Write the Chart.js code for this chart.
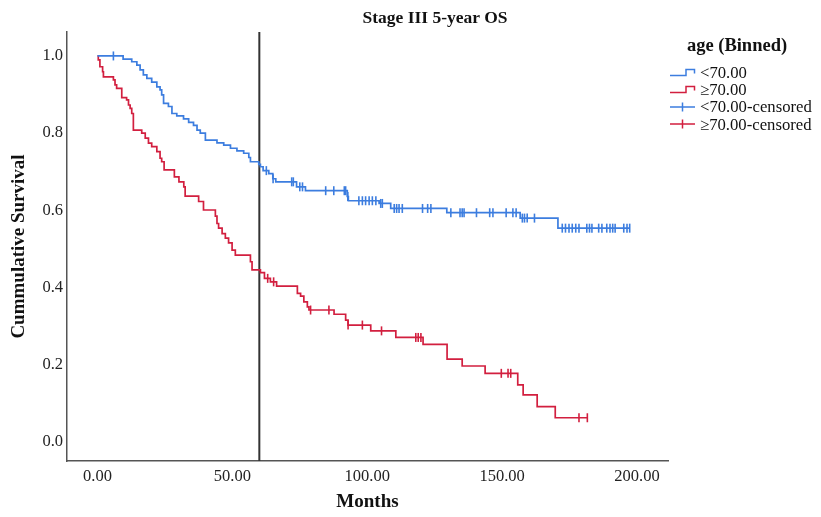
<!DOCTYPE html>
<html>
<head>
<meta charset="utf-8">
<script src="https://cdn.jsdelivr.net/npm/chart.js@4/dist/chart.umd.min.js"></script>
<style>
  html, body { margin: 0; padding: 0; background: #fff; }
  #wrap { position: relative; width: 821px; height: 517px; font-family: "Liberation Serif", "Times New Roman", serif; color: #111; }
  #km { position: absolute; left: 0; top: 0; }
  #title { position: absolute; left: 315px; width: 240px; top: 7px; text-align: center; font-weight: bold; font-size: 17.5px; line-height: 21px; }
  #legend { position: absolute; left: 669px; top: 34px; width: 152px; }
  #legend .head { font-weight: bold; font-size: 18.5px; line-height: 22px; text-align: center; width: 136px; margin-bottom: 8px; }
  #legend .item { height: 17.2px; line-height: 17px; font-size: 16.7px; white-space: nowrap; }
  #legend svg { vertical-align: middle; margin-right: 4px; position: relative; top: -2px; }
</style>
</head>
<body>
<div id="wrap">
  <canvas id="km" width="821" height="517"></canvas>
  <div id="title">Stage III 5-year OS</div>
  <div id="legend"></div>
</div>
<script>
// age < 70: event times (months) and survival after each event
const youngTimes = [0, 9.5, 12.7, 14.6, 15.8, 17.0, 18.3, 20.1, 22.0, 23.2, 23.8, 24.5, 26.3, 27.6, 29.4, 31.9,
  33.8, 35.6, 36.9, 38.1, 40.0, 44.3, 46.8, 49.3, 51.7, 54.2, 56.1, 56.7, 59.8, 60.4, 61.4, 63.5, 65.0, 66.1,
  73.8, 77.1, 92.6, 93.0, 104.4, 108.7, 129.5, 156.7, 170.7]
const youngSurv = [1.0, 0.992, 0.985, 0.976, 0.964, 0.951, 0.942, 0.932, 0.920, 0.912, 0.899, 0.877, 0.869, 0.851, 0.845, 0.837,
  0.828, 0.820, 0.808, 0.800, 0.782, 0.775, 0.769, 0.761, 0.754, 0.748, 0.737, 0.726, 0.719, 0.713, 0.703, 0.695, 0.682, 0.674,
  0.661, 0.651, 0.636, 0.625, 0.618, 0.605, 0.594, 0.580, 0.554]
const youngCensor = [5.9, 62.6, 65.1, 72.0, 72.6, 75.0, 76.0, 84.6, 87.6, 91.5, 92.0, 92.8, 96.9, 98.2, 99.4, 100.7, 101.9,
  103.2, 105.0, 105.6, 110.0, 110.9, 111.8, 113.0, 120.5, 122.4, 123.6, 131.0, 134.4, 135.2, 135.9, 140.5, 145.4, 146.6,
  151.5, 154.0, 155.2, 157.5, 158.3, 159.3, 162.0, 172.3, 173.5, 174.8, 176.0, 177.3, 178.5, 181.4, 182.4, 183.3, 185.8,
  187.0, 188.8, 190.0, 191.0, 191.9, 195.1, 196.3, 197.3]

// age >= 70
const oldTimes = [0, 0.3, 0.9, 1.9, 2.2, 5.9, 6.5, 7.1, 9.0, 10.8, 11.5, 12.1, 12.7, 13.3, 16.4, 17.7, 18.9, 20.1, 22.0,
  23.2, 23.8, 24.7, 28.5, 30.2, 32.0, 32.5, 37.5, 39.3, 43.7, 44.3, 44.9, 46.2, 47.4, 48.6, 49.9, 51.1, 56.7, 57.3,
  60.4, 61.9, 64.1, 66.4, 74.1, 75.3, 76.5, 77.8, 78.4, 87.7, 92.0, 92.9, 101.3, 110.6, 120.7, 129.6, 135.2, 143.7,
  155.8, 157.8, 163.0, 169.7]
const oldSurv = [1.0, 0.990, 0.972, 0.959, 0.946, 0.938, 0.925, 0.916, 0.892, 0.886, 0.873, 0.864, 0.851, 0.808, 0.800, 0.787,
  0.774, 0.765, 0.752, 0.735, 0.726, 0.705, 0.687, 0.674, 0.661, 0.637, 0.623, 0.601, 0.585, 0.566, 0.554, 0.540, 0.528,
  0.516, 0.497, 0.484, 0.467, 0.446, 0.439, 0.424, 0.415, 0.404, 0.385, 0.378, 0.363, 0.350, 0.342, 0.331, 0.316, 0.303,
  0.288, 0.271, 0.253, 0.215, 0.197, 0.178, 0.148, 0.122, 0.092, 0.063]
const oldCensor = [63.1, 65.3, 79.0, 85.8, 92.9, 98.2, 105.3, 118.0, 118.9, 119.9, 149.7, 152.2, 153.2, 178.5, 181.6]

const xTicks = [0, 50, 100, 150, 200]
const yTicks = [0, 0.2, 0.4, 0.6, 0.8, 1.0]
const xMin = -11.3, xMax = 211.5
const yMin = -0.049, yMax = 1.062
const cutoff = 60

const blue = '#3c7ddf'
const red = '#d21f3f'
const font = '"Liberation Serif", "Times New Roman", serif'

function survAt(times, surv, t) {
  let s = surv[0]
  for (let i = 0; i < times.length; i++) if (times[i] <= t) s = surv[i]
  return s
}

function curve(times, surv, censor) {
  const pts = times.map((t, i) => ({ x: t, y: surv[i] }))
  pts.push({ x: Math.max(...censor), y: surv[surv.length - 1] })
  return pts
}

function marks(times, surv, censor) {
  return censor.map(t => ({ x: t, y: survAt(times, surv, t) }))
}

const ctx = document.getElementById('km').getContext('2d')

new Chart(ctx, {
  type: 'line',
  data: {
    datasets: [
      { data: curve(youngTimes, youngSurv, youngCensor), borderColor: blue, borderWidth: 1.7, stepped: true, pointRadius: 0, fill: false },
      { data: curve(oldTimes, oldSurv, oldCensor), borderColor: red, borderWidth: 1.7, stepped: true, pointRadius: 0, fill: false },
      { type: 'scatter', data: marks(youngTimes, youngSurv, youngCensor), borderColor: blue, backgroundColor: blue,
        pointStyle: 'line', rotation: 90, pointRadius: 4.5, pointBorderWidth: 1.6 },
      { type: 'scatter', data: marks(oldTimes, oldSurv, oldCensor), borderColor: red, backgroundColor: red,
        pointStyle: 'line', rotation: 90, pointRadius: 4.5, pointBorderWidth: 1.6 },
      { data: [{ x: cutoff, y: yMin }, { x: cutoff, y: yMax }], borderColor: '#333', borderWidth: 2, pointRadius: 0 }
    ]
  },
  options: {
    responsive: false,
    animation: false,
    layout: { padding: { top: 32, right: 153, left: 4, bottom: 0 } },
    plugins: { legend: { display: false }, tooltip: { enabled: false } },
    scales: {
      x: {
        type: 'linear', min: xMin, max: xMax,
        grid: { display: false, drawTicks: false },
        border: { color: '#555', width: 1.5 },
        afterBuildTicks: s => { s.ticks = xTicks.map(v => ({ value: v })) },
        afterFit: s => { s.height = 56 },
        ticks: { padding: 6, color: '#222', font: { family: font, size: 16.5 }, callback: v => v.toFixed(2) },
        title: { display: true, text: 'Months', color: '#111', font: { family: font, size: 19, weight: 'bold' }, padding: { top: 7 } }
      },
      y: {
        type: 'linear', min: yMin, max: yMax,
        grid: { display: false, drawTicks: false },
        border: { color: '#555', width: 1.5 },
        afterBuildTicks: s => { s.ticks = yTicks.map(v => ({ value: v })) },
        afterFit: s => { s.width = 63 },
        ticks: { padding: 4, color: '#222', font: { family: font, size: 16.5 }, callback: v => v.toFixed(1) },
        title: { display: true, text: 'Cummulative Survival', color: '#111', font: { family: font, size: 19, weight: 'bold' }, padding: { bottom: 3 } }
      }
    }
  }
})

// legend
const stepIcon = c => `<svg width="27" height="10"><path d="M1 8.5 H17 V2.5 H25.5 V6.5" fill="none" stroke="${c}" stroke-width="1.5"/></svg>`
const crossIcon = c => `<svg width="27" height="10"><path d="M1 5 H26 M13.5 0.5 V9.5" fill="none" stroke="${c}" stroke-width="1.5"/></svg>`
const legendItems = [
  [stepIcon(blue), '&lt;70.00'],
  [stepIcon(red), '&ge;70.00'],
  [crossIcon(blue), '&lt;70.00-censored'],
  [crossIcon(red), '&ge;70.00-censored']
]
document.getElementById('legend').innerHTML = '<div class="head">age (Binned)</div>' +
  legendItems.map(([icon, label]) => `<div class="item">${icon}${label}</div>`).join('')
</script>
</body>
</html>
